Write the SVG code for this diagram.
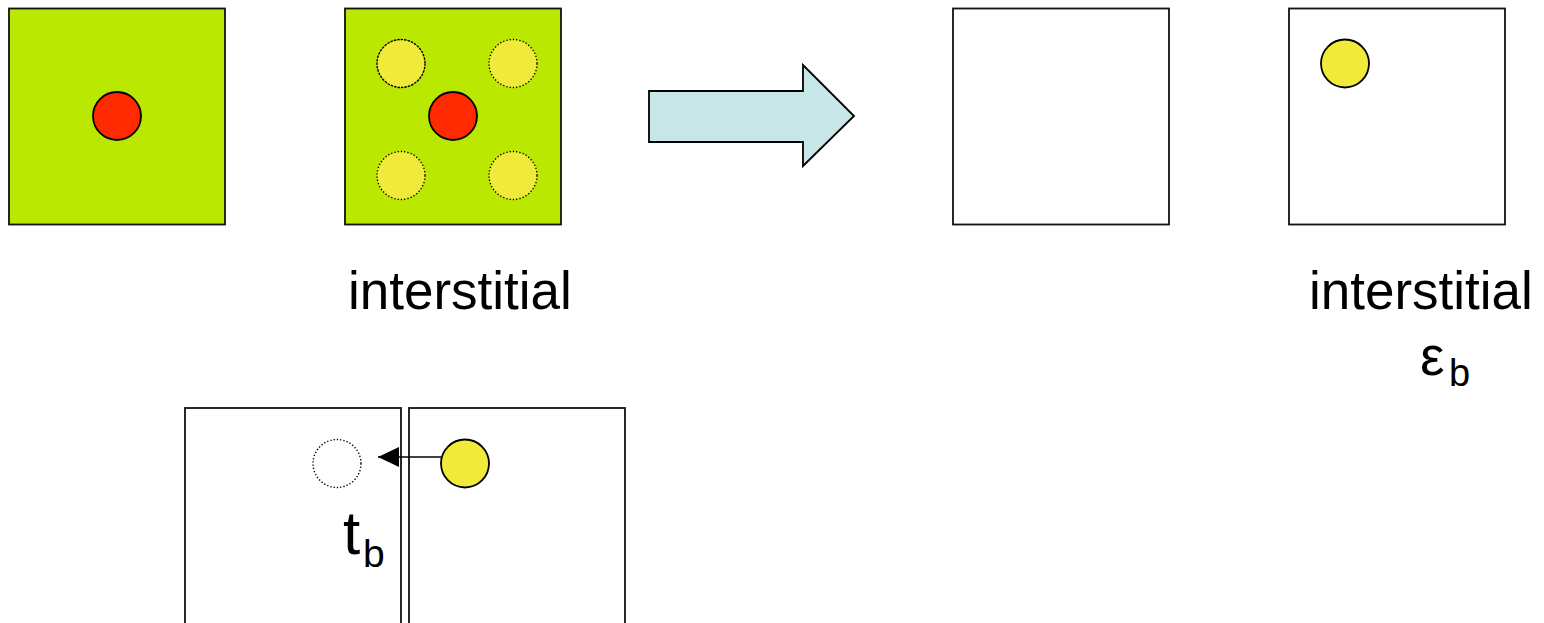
<svg xmlns="http://www.w3.org/2000/svg" width="1544" height="623" viewBox="0 0 1544 623">
<style>
.box{fill:#fff;stroke:#111;stroke-width:1.8}
.green{fill:#BBE800;stroke:#111;stroke-width:1.8}
.red{fill:#FF2A00;stroke:#000;stroke-width:1.8}
.yel{fill:#F2EA3A;stroke:#000;stroke-width:1.8}
.ghost{fill:#F2EA3A;stroke:#000;stroke-width:1.4;stroke-dasharray:1.3 2}
.ghost1{fill:#F2EA3A;stroke:#000;stroke-width:1.4;stroke-dasharray:2.5 1}
.empty{fill:none;stroke:#000;stroke-width:1.4;stroke-dasharray:1.3 2}
.lbl{font-family:"Liberation Sans",Arial,sans-serif;fill:#000}
</style>
<defs>
<marker id="ah" markerWidth="22" markerHeight="20" refX="21" refY="10" orient="auto" markerUnits="userSpaceOnUse">
<path d="M0,0 L21,10 L0,20 Z" fill="#000"/>
</marker>
</defs>
<g id="box1">
<rect class="green" x="9" y="8.5" width="216" height="216"/>
<circle class="red" cx="117" cy="116" r="24"/>
</g>
<g id="box2">
<rect class="green" x="345" y="8.5" width="216" height="216"/>
<circle class="ghost1" cx="401" cy="63.5" r="24"/>
<circle class="ghost" cx="513" cy="63.5" r="24"/>
<circle class="red" cx="453" cy="116" r="24"/>
<circle class="ghost" cx="401" cy="175.5" r="24"/>
<circle class="ghost" cx="513" cy="175.5" r="24"/>
</g>
<text id="label1" class="lbl" x="348" y="309" font-size="53">interstitial</text>
<g id="bigArrow">
<polygon points="649,91 803,91 803,65 854,116 803,166 803,142 649,142" fill="#C6E6E8" stroke="#000" stroke-width="1.8"/>
</g>
<g id="box3">
<rect class="box" x="953" y="8.5" width="216" height="216"/>
</g>
<g id="box4">
<rect class="box" x="1289" y="8.5" width="216" height="216"/>
<circle class="yel" cx="1345" cy="63.5" r="24"/>
</g>
<text id="label2" class="lbl" x="1309" y="309" font-size="53">interstitial</text>
<g id="epsb">
<text class="lbl" x="1420" y="375" font-size="55">ε</text>
<text class="lbl" x="1449" y="386" font-size="38">b</text>
</g>
<g id="box5">
<rect class="box" x="185" y="408" width="216" height="216"/>
<circle class="empty" cx="337" cy="463.5" r="24"/>
<text class="lbl" x="343" y="554" font-size="62">t</text>
<text class="lbl" x="363" y="567" font-size="39">b</text>
</g>
<g id="box6">
<rect class="box" x="409" y="408" width="216" height="216"/>
<circle class="yel" cx="465" cy="463.5" r="24"/>
</g>
<g id="connectors">
<line x1="441" y1="457" x2="378" y2="457" stroke="#000" stroke-width="1.6" marker-end="url(#ah)"/>
</g>
</svg>
